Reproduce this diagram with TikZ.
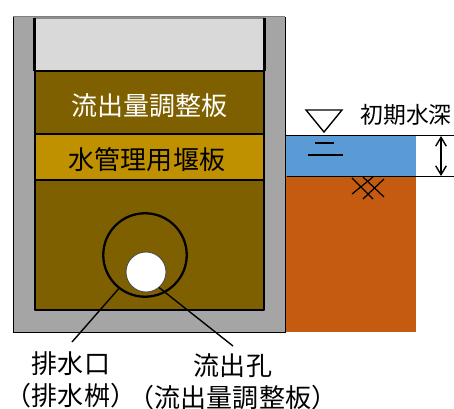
\documentclass[tikz,border=0pt]{standalone}
\usepackage{fontspec}
\setmainfont{Noto Sans CJK JP}
\usetikzlibrary{arrows, arrows.meta}
\tikzset{>={Straight Barb[length=5pt,width=6pt]}}
\definecolor{wall}{HTML}{A5A5A5}
\definecolor{empty}{HTML}{D9D9D9}
\definecolor{board}{HTML}{7F6000}
\definecolor{stopboard}{HTML}{BF9000}
\definecolor{water}{HTML}{5B9BD5}
\definecolor{soil}{HTML}{C55A11}
\tikzset{
    thick line/.style={line width=1.3pt},
    thin line/.style={line width=0.8pt},
    caption/.style={inner sep=0pt, font=\fontsize{14.8}{16}\selectfont},
    hatch/.style={line width=0.7pt}
}
\begin{document}
\begin{tikzpicture}[x=0.02cm, y=-0.02cm]
    \useasboundingbox (0,0) rectangle (454,409);
    % soil and water
    \fill[soil] (286,176) rectangle (416,332);
    \fill[water] (286,136) rectangle (416,176);
    \draw[thin line] (286,135.5) -- (454,135.5);
    \draw[thin line] (287,176.5) -- (454,176.5);
    % basin
    \fill[wall] (13,17) rectangle (285,332);
    \draw[line width=0.8pt, black!50] (13,16.5) -- (285,16.5);
    \draw[line width=1.1pt] (13.5,16.5) -- (13.5,332.5) -- (285,332.5);
    \draw[line width=0.9pt] (285.5,17) -- (285.5,332.5);
    \draw[fill=empty, draw=black!45, thin line] (35,18) rectangle (264,71);
    \draw[thick line] (34.5,18) -- (34.5,71);
    \draw[thick line] (264.5,18) -- (264.5,71);
    \draw[thick line, fill=board] (35,71) rectangle (264,134);
    \draw[thick line, fill=stopboard] (35,134) rectangle (264,180);
    \draw[thick line, fill=board, line join=round] (35,180) rectangle (264,310);
    \node[caption, text=white] (flowboard) at (149.5,106) {流出量調整板};
    \node[caption] (stoplabel) at (147,160) {水管理用堰板};
    % outlet
    \node[circle, draw, thick line, inner sep=0pt, minimum size=1.67cm] (pit) at (145,255) {};
    \node[circle, draw=black!70, fill=white, line width=0.5pt, inner sep=0pt, minimum size=0.8cm] (hole) at (146,272) {};
    \node[caption, align=center] (pitlabel) at (71,380) {排水口\\[2pt]（排水桝）};
    \node[caption, align=center] (holelabel) at (233,382) {流出孔\\[2pt]（流出量調整板）};
    \coordinate (pitend) at (72,342);
    \coordinate (holeend) at (233,346);
    \draw[thin line] (pit.232) -- (pitend);
    \draw[thin line] (hole.-50) -- (holeend);
    % water level
    \draw[thin line] (306,110) -- (342,110) -- (324,132) -- cycle;
    \draw[thin line] (315,143) -- (334,143);
    \draw[thin line] (308,155) -- (343,155);
    \node[caption, font=\fontsize{13}{15}\selectfont] (depthlabel) at (406,115) {初期水深};
    \coordinate (depthtop) at (441,136);
    \coordinate (depthbot) at (441,176);
    \draw[<->, thin line] (depthtop) -- (depthbot);
    % ground mark
    \draw[hatch] (352,194) -- (373,177);
    \draw[hatch] (363,199) -- (384,179);
    \draw[hatch] (352,178) -- (373,199);
    \draw[hatch] (363,177) -- (384,197);
\end{tikzpicture}
\end{document}
